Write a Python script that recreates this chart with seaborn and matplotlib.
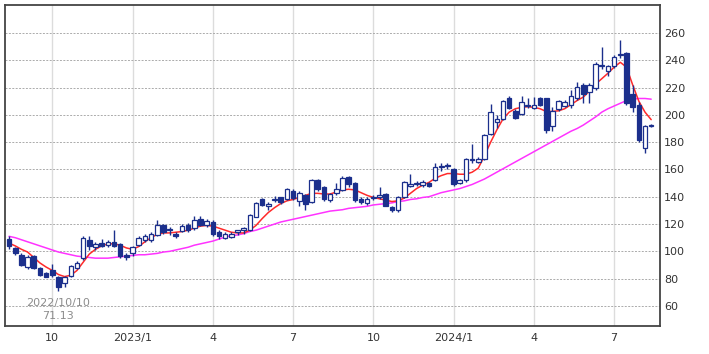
import numpy as np
import pandas as pd
import matplotlib
matplotlib.use("Agg")
import matplotlib.pyplot as plt
import seaborn as sns

# ---------------- data (weekly candles) ----------------
start_week = "2022-08-15"
opens = [109, 102.5, 97.5, 88.5, 96.5, 88, 84, 86, 81.5, 76.5,
         82, 88, 95, 108.5, 103, 106, 104.5, 106.5, 105.5, 97.5,
         99, 105, 108.5, 108, 112, 119, 116, 113, 115, 119.5,
         117, 124, 119, 121.5, 114.5, 109.5, 110.5, 114.5, 116, 115.5,
         125.5, 138.5, 133, 137.5, 139.5, 138.5, 144.5, 136.8, 141, 136.5,
         152, 147, 137.5, 143, 145, 154.5, 150, 138.5, 135.5, 139,
         140, 142, 132.5, 130.5, 140, 148, 149.5, 148.5, 150, 152.5,
         161.5, 162.5, 160, 150, 152, 167, 165.8, 168, 186, 195,
         197, 212, 203, 201, 206.5, 205, 212, 212, 191.5, 204.5,
         206.5, 207.5, 212, 222, 216.5, 219.5, 235.5, 232, 235.5, 243.5,
         245, 215.5, 207, 175.5, 191.5]
highs = [111, 103.5, 98.5, 97, 97.5, 88.5, 85, 91, 82, 82,
         90, 93, 111.5, 111.5, 107, 109, 108, 115.6, 106, 98.5,
         104, 111, 113, 114, 123, 120, 117.5, 114, 120, 120.5,
         126, 126, 124, 123, 115.5, 114, 114, 116, 117.5, 127.5,
         136.5, 139, 136, 140.5, 140, 146.5, 146, 144, 142, 153,
         153, 148, 143, 150, 155, 155.5, 151, 140, 140, 141,
         147.5, 143, 133.5, 140.5, 151.5, 157, 151.5, 152, 151, 164.5,
         164.5, 165, 161, 153, 168.5, 179, 169, 186, 208, 200,
         211, 213.5, 204, 214, 212, 213, 213, 212.5, 206, 211,
         211, 218, 224, 223, 223.5, 238.5, 250, 236.5, 244, 255,
         246, 222, 209.5, 192.5, 193]
lows = [102, 97, 89, 87, 87, 82, 81, 81, 71.13, 74,
        81, 87, 94, 101, 101, 103, 103.5, 103.5, 95, 93.7,
        96.5, 104, 107, 107, 111, 113, 112, 109.5, 114, 114.5,
        116, 118.5, 118, 111.5, 109, 109, 110, 112, 113, 115,
        125, 133, 130, 136.5, 135, 137.5, 137.5, 133, 130.5, 135.5,
        144.5, 137, 136, 141, 144, 147.5, 136, 135, 134, 137.5,
        138, 133, 128.5, 129, 139, 147, 148, 147.5, 147, 151.5,
        159, 160, 148, 149, 151, 165, 164.5, 167, 185, 190.5,
        196, 204, 197, 200, 205, 204, 206.5, 187, 188, 203,
        205.5, 205, 211, 208.5, 209, 218.5, 233.5, 228.5, 234.5, 241.5,
        207, 202, 180, 172, 191]
closes = [104, 98.5, 90, 96, 88, 83, 81.5, 82.5, 74, 81,
          89.3, 91.7, 110, 104, 105.5, 103.8, 107, 104.2, 96.5, 95.5,
          103.5, 110, 111, 112.5, 119.5, 114, 115.5, 111, 118.5, 115.5,
          123, 119.5, 122.5, 112.5, 111.5, 113, 113, 115, 116.5, 126.5,
          135.5, 134, 135, 138.5, 136, 145.5, 138.8, 142.4, 135, 152,
          145.5, 138, 142, 146, 154, 149, 137.5, 136.5, 138.5, 140,
          141, 133.5, 130.5, 139.5, 150.5, 149.5, 150, 151, 148, 162,
          162, 163, 149.5, 152, 167.5, 167.5, 168, 185, 202, 197,
          210, 205, 198, 209.5, 207.3, 207.5, 207.5, 189, 203, 210,
          209.5, 214, 220.5, 215, 222, 237.5, 236.5, 235.5, 242.5, 244,
          208.5, 206, 181.5, 191.5, 192.5]
ma13 = [106, 104, 101.5, 99.5, 95.5, 91.5, 88.5, 86, 83, 81.5,
        82.5, 86, 92, 98, 101.5, 104, 105.5, 105.5, 104.5, 102.5,
        101.5, 103.5, 107, 110, 112.5, 113.5, 113.5, 114, 114.5, 115.5,
        117, 118.5, 119, 118.5, 117, 115.5, 114, 113.5, 113.5, 115.5,
        119, 124, 128.5, 132, 135, 137, 138, 139.5, 141, 142.5,
        142.5, 142, 142, 143.5, 145, 145.5, 145, 143, 141, 139.5,
        138.5, 137.5, 136.5, 137, 139, 142.5, 146, 148.5, 150.5, 153.5,
        155.5, 157, 157, 156.5, 156.5, 158, 161, 170, 180, 189,
        197, 202, 204.5, 205.5, 206, 205.5, 204.5, 202.5, 202.5, 203,
        204.5, 207.5, 210.5, 213, 217.5, 222.5, 226.5, 230.5, 235, 238.5,
        235, 222, 210, 202, 196.5]
ma26 = [111, 110, 108.5, 107, 105.5, 104, 102.5, 101, 99.5, 98.5,
        97.5, 96.5, 96, 95.5, 95, 95, 95, 95.5, 96, 96.5,
        97, 97.5, 97.5, 98, 98.5, 99.5, 100, 101, 102, 103,
        104.5, 105.5, 106.5, 107.5, 109, 110.5, 111.5, 112, 113, 114.5,
        115.5, 117, 118.5, 120, 121.5, 122.5, 123.5, 124.5, 125.5, 126.5,
        127.5, 128.5, 129.5, 130, 130.5, 131.5, 132, 132.5, 133, 134,
        134.5, 135, 135.5, 136.5, 137, 138, 138.5, 139.5, 140, 141.5,
        143, 144, 145, 146, 147.5, 149, 151, 153, 155.5, 158,
        160.5, 163, 165.5, 168, 170.5, 173, 175.5, 178, 180.5, 183,
        185.5, 188, 190, 192.5, 195.5, 198.5, 202, 204.5, 206.5, 208.5,
        210.5, 211.5, 212, 212, 211.5]

tick_dates = ["2022-10-03", "2023-01-02", "2023-04-03", "2023-07-03",
              "2023-10-02", "2024-01-01", "2024-04-01", "2024-07-01"]
tick_labels = ["10", "2023/1", "4", "7", "10", "2024/1", "4", "7"]
y_ticks = [60, 80, 100, 120, 140, 160, 180, 200, 220, 240, 260]

low_label_date = "2022/10/10"
low_label_value = "71.13"

# ---------------- build frame ----------------
dates = pd.date_range(start_week, periods=len(opens), freq="W-MON")
df = pd.DataFrame({"date": dates, "open": opens, "high": highs,
                   "low": lows, "close": closes, "ma13": ma13, "ma26": ma26})

sns.set_theme(style="white")
plt.rcParams["font.family"] = ["DejaVu Sans"]

fig = plt.figure(figsize=(7.09, 3.54), dpi=100)
ax = fig.add_axes([5 / 709, 1 - 326 / 354, 655 / 709, 321 / 354])

navy = "#1b2f8c"

# grid
ax.set_yticks(y_ticks)
ax.grid(axis="y", color="#ababab", linestyle=(0, (2, 1.5)), linewidth=0.7)
for d in tick_dates:
    ax.axvline(pd.Timestamp(d), color="#dcdcdc", linewidth=1.0, zorder=0)

# moving averages via seaborn
sns.lineplot(data=df, x="date", y="ma26", ax=ax, color="#ff33ff", linewidth=1.1, zorder=2)
sns.lineplot(data=df, x="date", y="ma13", ax=ax, color="#ff2a2a", linewidth=1.1, zorder=3)

# candles
ax.vlines(df["date"], df["low"], df["high"], color=navy, linewidth=1.0, zorder=4)
up = df["close"] >= df["open"]
bottoms = np.minimum(df["open"], df["close"])
heights = np.maximum(np.abs(df["close"] - df["open"]), 0.8)
faces = np.where(up, "white", navy)
ax.bar(df["date"], heights, bottom=bottoms, width=5.2, color=faces,
       edgecolor=navy, linewidth=0.9, zorder=5, align="center")

# low annotation
imin = int(np.argmin(df["low"].values))
ax.annotate(f"{low_label_date}\n{low_label_value}",
            xy=(df["date"].iloc[imin], df["low"].iloc[imin]),
            xytext=(0, -5), textcoords="offset points",
            ha="center", va="top", fontsize=8, color="#8c8c8c", linespacing=1.4)

# axes limits and ticks
ax.set_xlim(dates[0] - pd.Timedelta(days=4.6), dates[0] + pd.Timedelta(days=738))
ax.set_ylim(45.3, 280.5)
ax.set_xticks([pd.Timestamp(d) for d in tick_dates])
ax.set_xticklabels(tick_labels)
ax.yaxis.tick_right()
ax.tick_params(axis="y", labelsize=8, colors="#333333", length=0, pad=3)
ax.tick_params(axis="x", labelsize=8, colors="#333333", length=0, pad=5)
ax.set_xlabel("")
ax.set_ylabel("")
for s in ax.spines.values():
    s.set_color("#444444")
    s.set_linewidth(1.3)
    s.set_visible(True)

fig.savefig("out.png", dpi=100)
